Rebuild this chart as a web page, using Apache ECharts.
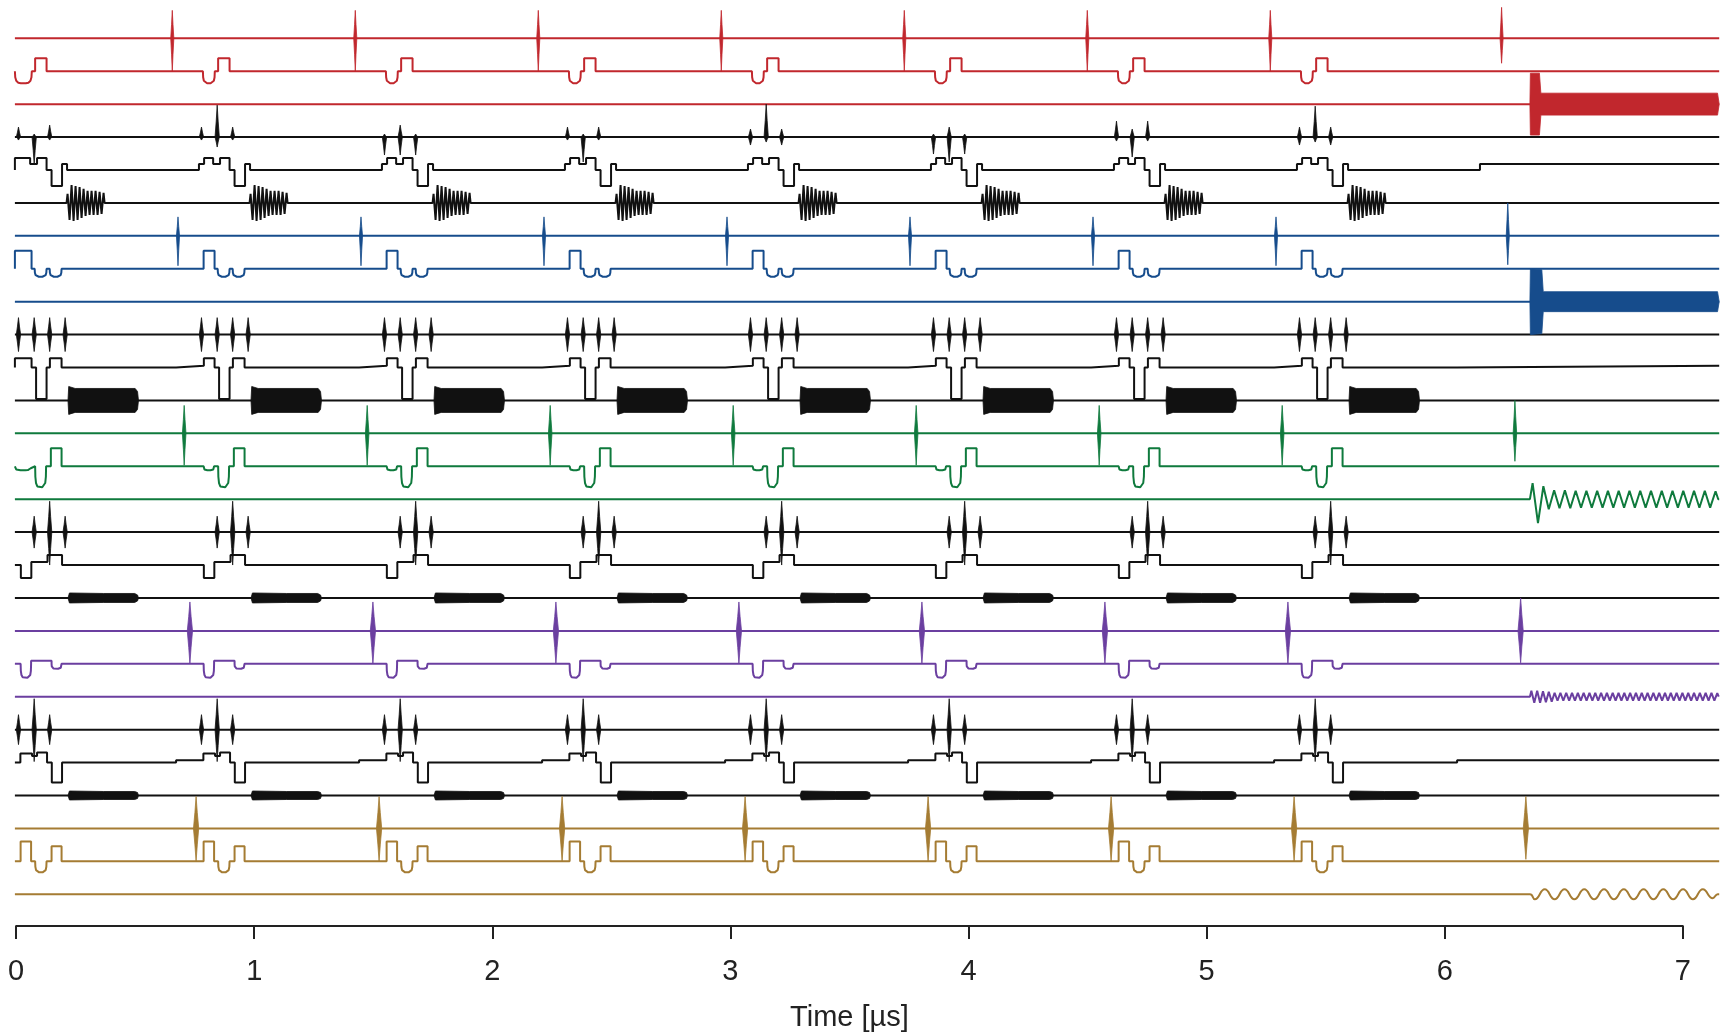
<!DOCTYPE html>
<html>
<head>
<meta charset="utf-8">
<script src="https://cdn.jsdelivr.net/npm/echarts@6/dist/echarts.min.js"></script>
<style>
  html, body { margin: 0; padding: 0; background: #fff; }
  #chart { width: 1729px; height: 1035px; }
</style>
</head>
<body>
<div id="chart"></div>
<script>
// time in µs, amplitudes in arbitrary units (33 units between two traces)
var T_START = -0.005, T_END = 7.153;
var PERIOD = 0.7686;          // length of one repeated block
var N_BLOCKS = 8;
var ROW_GAP = 33;
var READOUT_T = 6.358;
var xTicks = [0, 7, 1];       // min, max, interval of the time axis

var colors = { red: '#c1272d', black: '#111111', blue: '#164c8c', green: '#0f7a3d', purple: '#6b3fa0', gold: '#a57c33' };
var rowColors = ['red', 'red', 'red', 'black', 'black', 'black', 'blue', 'blue', 'blue',
  'black', 'black', 'black', 'green', 'green', 'green', 'black', 'black', 'black',
  'purple', 'purple', 'purple', 'black', 'black', 'black', 'gold', 'gold', 'gold'];

// control pulses inside a block: [start ns, end ns, level, 'sq' square | 'rd' rounded]
var rowSegs = {
  1:  [[16, 66, -12, 'rd'], [80, 128, 13, 'sq']],
  4:  [[21, 59, 12, 'sq'], [59, 88, 6, 'sq'], [88, 128, 12, 'sq'], [149, 193, -16, 'sq'], [193, 214, 6, 'sq']],
  7:  [[19, 65, 18, 'sq'], [78, 128, -8, 'rd'], [141, 191, -8, 'rd']],
  10: [[20, 65, 9.4, 'sq'], [84, 128, -31.6, 'sq'], [142, 191, 9.4, 'sq']],
  13: [[19, 63, -4, 'rd'], [80, 126, -21, 'rd'], [146, 191, 18, 'sq']],
  16: [[20, 64, -13, 'sq'], [64, 132, 3, 'sq'], [132, 193, 10, 'sq']],
  19: [[19, 63, -14, 'rd'], [63, 149, 3, 'sq'], [149, 191, -5, 'rd']],
  22: [[18, 67, 9, 'sq'], [67, 88, 6.7, 'sq'], [88, 130, 10, 'sq'], [150, 193, -20, 'sq']],
  25: [[19, 63, 20, 'sq'], [80, 128, -11, 'rd'], [149, 191, 15, 'sq']]
};
var leadInRows = [1, 4, 7, 10, 13];           // first pulse already running at t = 0
var rowHold = { 4: [768, 6], 10: [672, 1.7], 22: [672, 2.3] };   // [from ns, level] until next block

// dispersive spikes (µs offset in blocks 0-6, then the last one)
var spikeOffset = { 0: 0.656, 6: 0.680, 12: 0.706, 18: 0.730, 24: 0.756 };
var spikeAmp = { 0: [28, 33], 6: [19, 30], 12: [28, 32], 18: [29, 33], 24: [32, 33] };
var spikeHalfNs = { 0: 6.5, 6: 6.5, 12: 7.5, 18: 11, 24: 11 };
var finalSpikeT = { 0: 6.239, 6: 6.265, 12: 6.295, 18: 6.319, 24: 6.341 };
var finalSpikeAmp = { 0: [31, 25], 6: [33, 29], 12: [33, 28], 18: [33, 32], 24: [32, 31] };

// black pulse spikes: offsets in ns, [up, down]
var blackSpikeNs = { 3: [10, 76, 141], 9: [10, 76, 141, 206], 15: [76, 141, 206], 21: [10, 76, 141] };
var row3Amps = [
  [[10, 3], [3, 27], [12, 3]],
  [[10, 3], [32, 10], [10, 3]],
  [[3, 18], [12, 18], [3, 18]],
  [[10, 3], [3, 25], [10, 3]],
  [[8, 8], [33, 5], [8, 8]],
  [[3, 17], [10, 25], [3, 17]],
  [[16, 4], [8, 20], [16, 4]],
  [[10, 8], [31, 5], [10, 8]]
];
var row9Amps = [[17, 17], [17, 17], [17, 17], [17, 17]];
var row15Amps = [[16, 16], [31, 33], [16, 16]];
var row21Amps = [[15, 15], [31, 32], [15, 15]];

// oscillating drive on row 5 (half-cycle peaks)
var driveStartNs = 212, driveHalfNs = 8.4;
var driveAmps = [9, -17, 18, -18, 17, -17, 16, -15, 14, -13, 12, -12, 12, -12, 12, -12, 11, -11, 10];

// burst envelopes on rows 11, 17, 23: [ns from start, half height]
var burstStartNs = 218;
var burstEnv = {
  11: [[0, 0], [3, 14], [30, 12], [282, 12], [292, 9], [296, 0]],
  17: [[0, 0], [6, 5], [150, 4.5], [280, 4.5], [292, 3], [296, 0]],
  23: [[0, 0], [6, 4.5], [150, 4], [280, 4], [292, 3], [296, 0]]
};

// readout signals after READOUT_T
var bandEnv = {
  2: [[0, 0], [2, 31], [40, 31], [46, 11], [788, 11], [795, 0]],
  8: [[0, 0], [2, 33], [50, 32], [56, 10], [788, 10], [795, 0]]
};
var greenReadout = [16, -24, 13, -10, 9, -9, 9, -9, 8.5, -8.5, 8.5, -8.5, 8.5, -8.5, 8.5, -8.5, 8.5, -8.5,
  8.5, -8.5, 8.5, -8.5, 8.5, -8.5, 8.5, -8.5, 8.5, -8.5, 8.5, -8.5, 8.5, -8.5, 8.5, -8.5, 8];
var purpleReadout = [6, -6, 6, -6, 5.5, -5.5, 5, -5, 4, -4, 4, -4, 3.8, -3.8, 3.8, -3.8, 3.8, -3.8, 3.8, -3.8,
  3.8, -3.8, 3.8, -3.8, 3.8, -3.8, 3.8, -3.8, 3.8, -3.8, 3.8, -3.8, 3.8, -3.8, 3.8, -3.8, 3.8, -3.8, 3.8, -3.8,
  3.8, -3.8, 3.8, -3.8, 3.8, -3.8, 3.8, -3.8, 3.8, -3.8, 3.8, -3.8, 3.8, -3.8, 3.8, -3.8, 3.8, -3.8, 3.8, -3.8,
  3.8, -3.8, 3.8, -3.8, 3.5];
var goldReadout = [-5, 5, -5, 5, -5, 5, -5, 5, -5, 5, -5, 5, -5, 5, -5, 5, -5, 5, -4];
var readoutOsc = {
  14: { half: 22.6, amps: greenReadout },
  20: { half: 12.2, amps: purpleReadout },
  26: { half: 41.5, amps: goldReadout }
};

// rounded pulse outline: [fraction of width, fraction of depth]
var ROUND = [[0, 0], [0.02, 0.5], [0.08, 0.8], [0.2, 0.96], [0.35, 1], [0.65, 1], [0.8, 0.96], [0.92, 0.8], [0.98, 0.5], [1, 0]];

function rowLine(r) {
  var base = -r * ROW_GAP;
  var segs = rowSegs[r] || [];
  var ev = [];
  for (var k = 0; k < N_BLOCKS; k++) {
    var t0 = k * PERIOD;
    segs.forEach(function (s, i) {
      var a = t0 + s[0] / 1000;
      if (k === 0 && i === 0 && leadInRows.indexOf(r) >= 0) a = T_START;
      ev.push({ a: a, b: t0 + s[1] / 1000, lv: s[2], kind: s[3] });
    });
    if (rowHold[r]) {
      var h = rowHold[r];
      var end = k === N_BLOCKS - 1 ? T_END : (k + 1) * PERIOD + segs[0][0] / 1000;
      ev.push({ a: t0 + h[0] / 1000, b: end, lv: h[1], kind: 'sq' });
    }
    if (r === 5) ev.push({ a: t0 + driveStartNs / 1000, half: driveHalfNs / 1000, amps: driveAmps, kind: 'osc' });
  }
  if (readoutOsc[r]) ev.push({ a: READOUT_T, half: readoutOsc[r].half / 1000, amps: readoutOsc[r].amps, kind: 'osc' });
  ev.sort(function (p, q) { return p.a - q.a; });

  var pts = [[T_START, base]];
  var prevEnd = null;
  ev.forEach(function (e) {
    if (e.kind === 'osc') {
      pts.push([e.a, base]);
      e.amps.forEach(function (v, i) { pts.push([e.a + (i + 0.5) * e.half, base + v]); });
      pts.push([e.a + e.amps.length * e.half, base]);
      prevEnd = null;
      return;
    }
    var joined = prevEnd !== null && Math.abs(prevEnd - e.a) < 1e-7;
    if (joined) pts.pop(); else pts.push([e.a, base]);
    if (e.kind === 'sq') {
      pts.push([e.a, base + e.lv], [e.b, base + e.lv]);
    } else {
      ROUND.forEach(function (f) { pts.push([e.a + f[0] * (e.b - e.a), base + f[1] * e.lv]); });
    }
    if (e.b < T_END - 1e-7) pts.push([e.b, base]);
    prevEnd = e.b;
  });
  if (pts[pts.length - 1][0] < T_END - 1e-7) pts.push([T_END, base]);
  return pts;
}

var shapes = [];
function lens(t, base, up, down, hw) {
  return [[t, base + up], [t + hw * 0.45, base + up * 0.5], [t + hw, base], [t + hw * 0.45, base - down * 0.5],
    [t, base - down], [t - hw * 0.45, base - down * 0.5], [t - hw, base], [t - hw * 0.45, base + up * 0.5]];
}
function envelope(t0, base, env) {
  var top = env.map(function (p) { return [t0 + p[0] / 1000, base + p[1]]; });
  var bot = env.slice().reverse().map(function (p) { return [t0 + p[0] / 1000, base - p[1]]; });
  return top.concat(bot);
}

Object.keys(spikeOffset).forEach(function (key) {
  var r = +key, base = -r * ROW_GAP, c = colors[rowColors[r]], hw = spikeHalfNs[r] / 1000;
  for (var k = 0; k < N_BLOCKS - 1; k++) {
    shapes.push({ pts: lens(k * PERIOD + spikeOffset[r], base, spikeAmp[r][0], spikeAmp[r][1], hw), color: c });
  }
  shapes.push({ pts: lens(finalSpikeT[r], base, finalSpikeAmp[r][0], finalSpikeAmp[r][1], hw), color: c });
});

var blackAmps = { 9: row9Amps, 15: row15Amps, 21: row21Amps };
Object.keys(blackSpikeNs).forEach(function (key) {
  var r = +key, base = -r * ROW_GAP;
  for (var k = 0; k < N_BLOCKS; k++) {
    var amps = r === 3 ? row3Amps[k] : blackAmps[r];
    blackSpikeNs[r].forEach(function (ns, i) {
      shapes.push({ pts: lens(k * PERIOD + ns / 1000, base, amps[i][0], amps[i][1], 0.009), color: colors.black });
    });
  }
});

Object.keys(burstEnv).forEach(function (key) {
  var r = +key, base = -r * ROW_GAP;
  for (var k = 0; k < N_BLOCKS; k++) {
    shapes.push({ pts: envelope(k * PERIOD + burstStartNs / 1000, base, burstEnv[r]), color: colors.black });
  }
});

Object.keys(bandEnv).forEach(function (key) {
  var r = +key;
  shapes.push({ pts: envelope(READOUT_T, -r * ROW_GAP, bandEnv[r]), color: colors[rowColors[r]] });
});

var series = [];
for (var r = 0; r < 27; r++) {
  series.push({
    type: 'line',
    xAxisIndex: 0,
    yAxisIndex: 0,
    data: rowLine(r),
    symbol: 'none',
    smooth: r === 26 ? 0.5 : false,
    lineStyle: { color: colors[rowColors[r]], width: 2 },
    silent: true,
    z: 2
  });
}
series.push({
  type: 'custom',
  xAxisIndex: 0,
  yAxisIndex: 0,
  silent: true,
  z: 3,
  encode: { x: 0, y: 1 },
  data: shapes.map(function (s, i) { return [s.pts[0][0], s.pts[0][1], i]; }),
  renderItem: function (params, api) {
    var s = shapes[api.value(2)];
    return {
      type: 'polygon',
      shape: { points: s.pts.map(function (p) { return api.coord(p); }) },
      style: { fill: s.color, stroke: s.color, lineWidth: 0.8 }
    };
  }
});

var chart = echarts.init(document.getElementById('chart'));
chart.setOption({
  animation: false,
  grid: [
    { left: 14.9, top: 5.38, width: 1704.3, height: 921.8 },
    { left: 16.1, top: 900, width: 1666.7, height: 26 }
  ],
  xAxis: [
    { gridIndex: 0, type: 'value', min: T_START, max: T_END, show: false },
    {
      gridIndex: 1, type: 'value', min: xTicks[0], max: xTicks[1], interval: xTicks[2],
      name: 'Time [µs]', nameLocation: 'middle', nameGap: 77,
      nameTextStyle: { fontSize: 29, color: '#222', fontFamily: 'Liberation Sans, Arial, sans-serif' },
      axisLine: { lineStyle: { color: '#222', width: 2 } },
      axisTick: { length: 13, lineStyle: { color: '#222', width: 2 } },
      axisLabel: { fontSize: 29, color: '#222', margin: 31, fontFamily: 'Liberation Sans, Arial, sans-serif' },
      splitLine: { show: false }
    }
  ],
  yAxis: [
    { gridIndex: 0, type: 'value', min: -27 * ROW_GAP, max: ROW_GAP, show: false },
    { gridIndex: 1, type: 'value', show: false }
  ],
  series: series
});
</script>
</body>
</html>
